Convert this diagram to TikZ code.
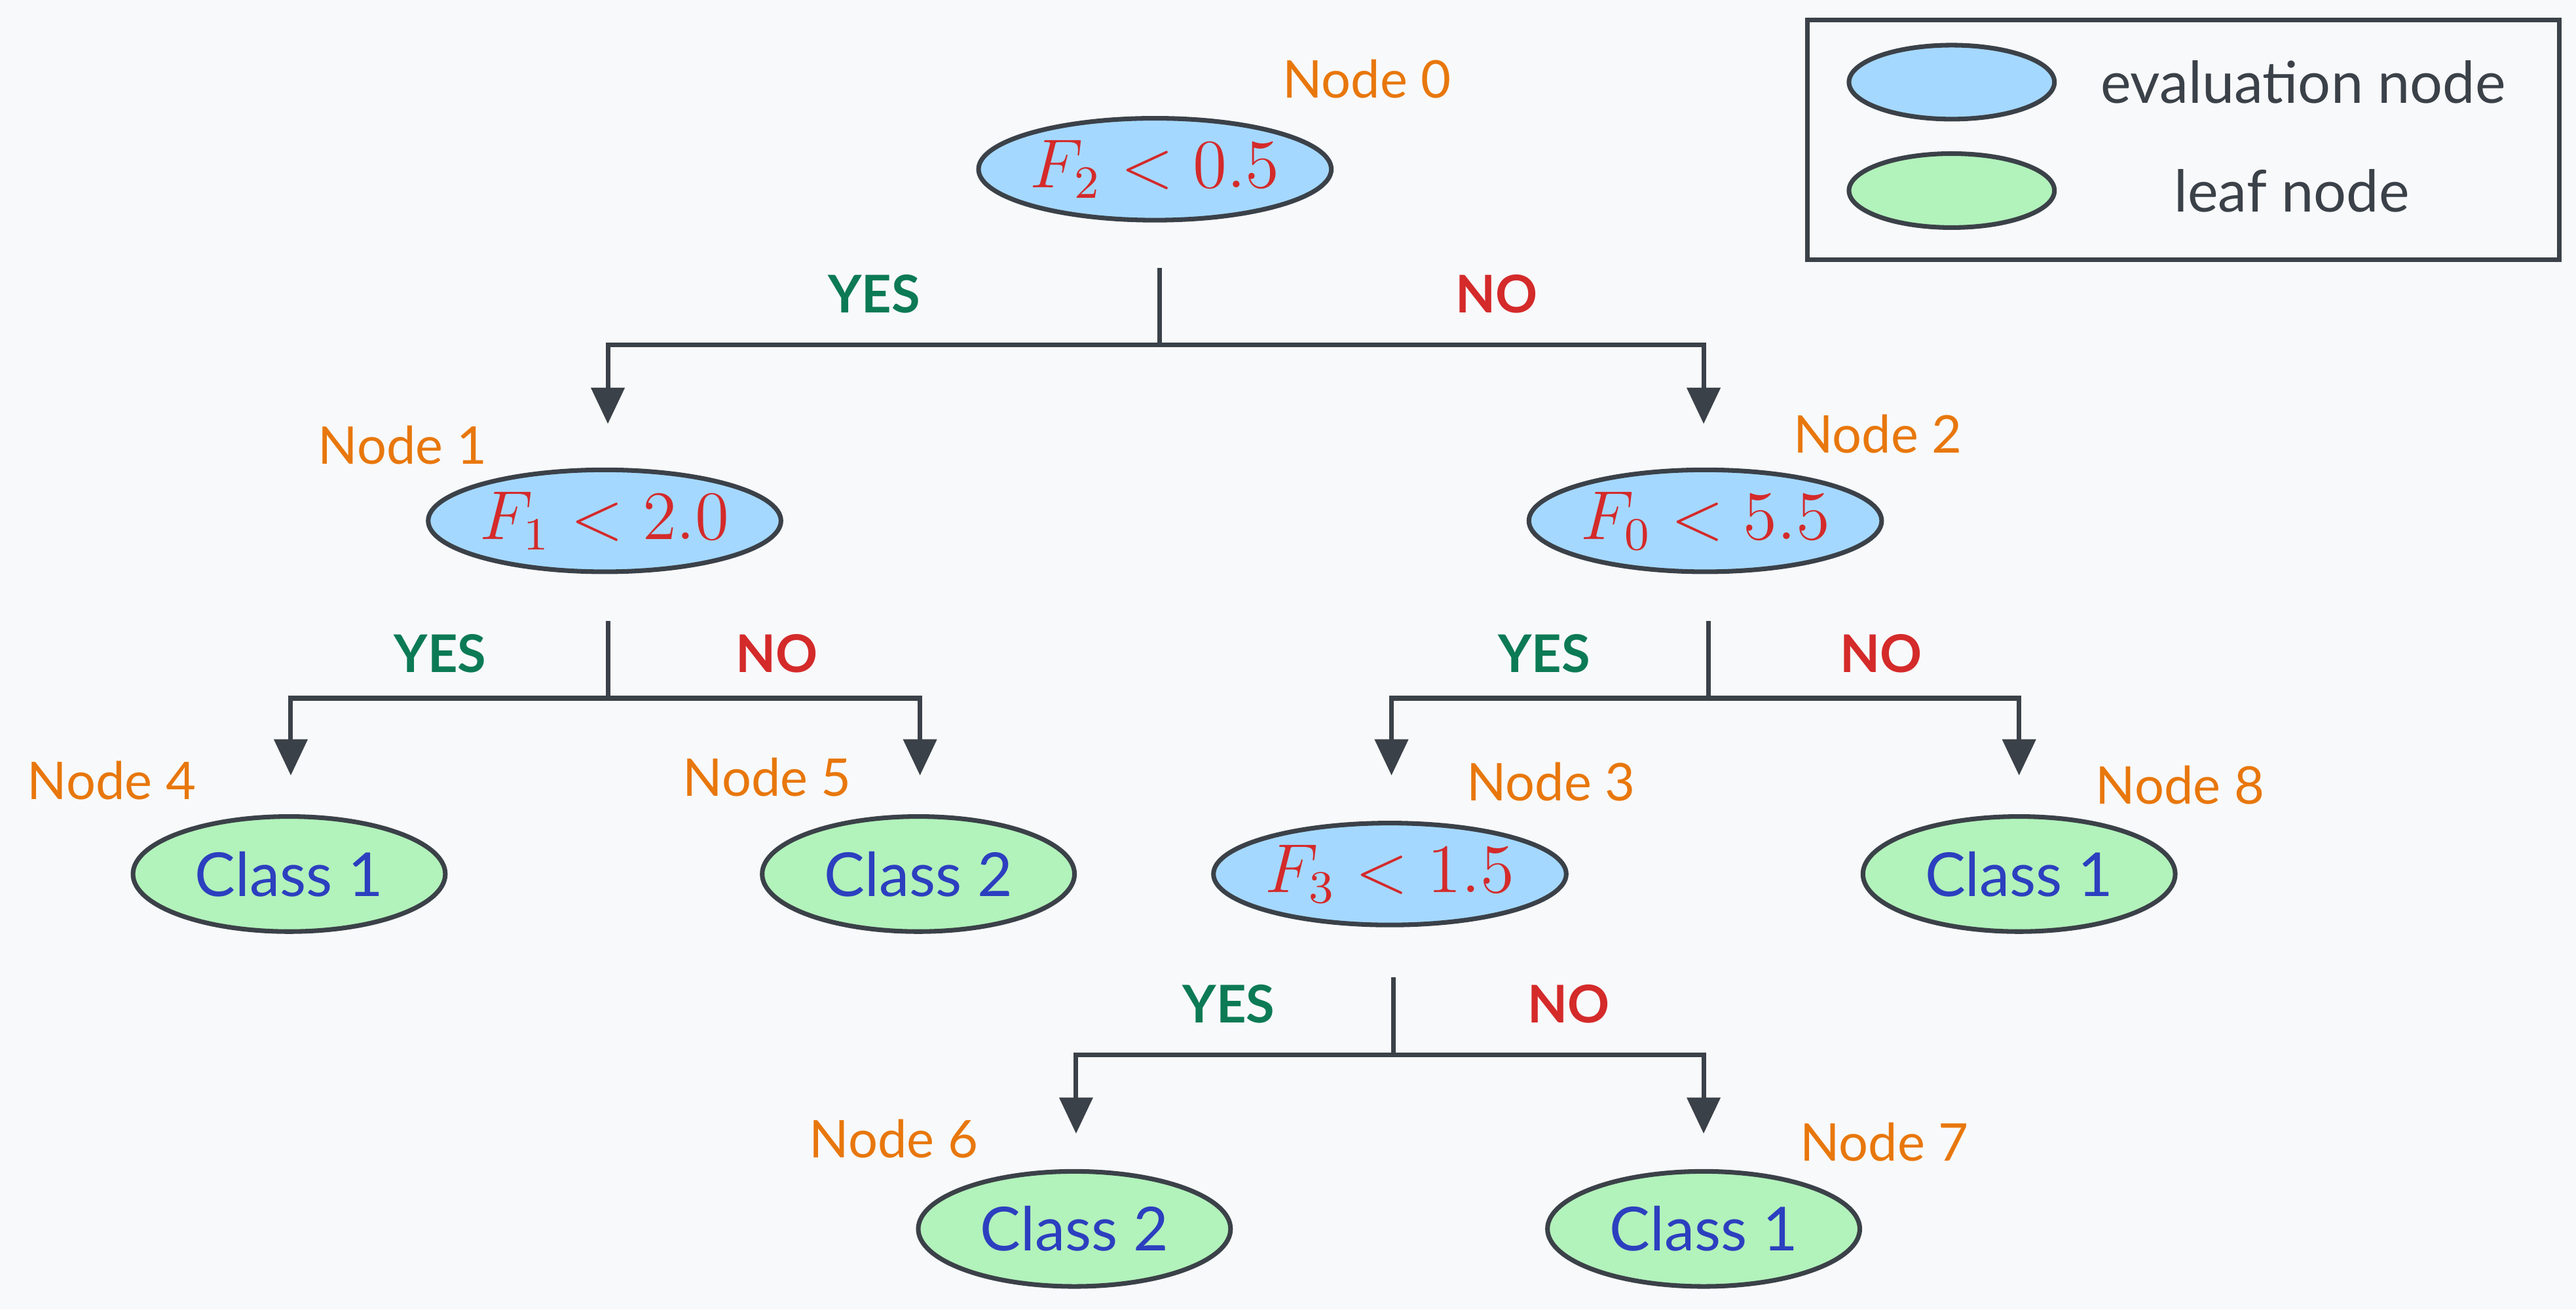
\documentclass[tikz,border=0pt]{standalone}
\usepackage{fontspec}
\setmainfont{Lato}
\usetikzlibrary{arrows.meta, shapes.geometric}
\definecolor{bgcol}{HTML}{F8F9FB}
\definecolor{evalfill}{HTML}{A5D8FF}
\definecolor{leaffill}{HTML}{B2F2BB}
\definecolor{strokecol}{HTML}{3B4148}
\definecolor{namecol}{HTML}{E8770C}
\definecolor{yescol}{HTML}{0C7A55}
\definecolor{nocol}{HTML}{D42A2A}
\definecolor{classcol}{HTML}{2C3FBF}

\begin{document}
\begin{tikzpicture}[
    x=0.01cm, y=-0.01cm,
    evalnode/.style={ellipse, draw=strokecol, thick, fill=evalfill, minimum width=1.92cm, minimum height=0.62cm, inner sep=0pt, text=nocol, font=\fontsize{11.5}{12}\selectfont},
    leafnode/.style={ellipse, draw=strokecol, thick, fill=leaffill, minimum width=1.9cm, minimum height=0.7cm, inner sep=0pt, text=classcol, font=\fontsize{10.5}{12}\selectfont},
    namenode/.style={text=namecol, font=\fontsize{9}{10}\selectfont},
    yesnode/.style={text=yescol, font=\fontsize{9}{10}\selectfont\bfseries},
    nonode/.style={text=nocol, font=\fontsize{9}{10}\selectfont\bfseries},
    branch/.style={draw=strokecol, thick},
    arrowline/.style={draw=strokecol, thick, -{Triangle[length=2.2mm, width=2mm]}},
]
    \fill [bgcol] (0,0) rectangle (1568,797);
    \useasboundingbox (0,0) rectangle (1568,797);

    % evaluation nodes
    \node [evalnode] at (703,103) (node_0) {$F_2 < 0.5$};
    \node [evalnode, minimum width=1.95cm] at (368,317) (node_1) {$F_1 < 2.0$};
    \node [evalnode, minimum width=1.95cm] at (1038,317) (node_2) {$F_0 < 5.5$};
    \node [evalnode] at (846,532) (node_3) {$F_3 < 1.5$};

    % leaf nodes
    \foreach \i/\x/\y/\c in {4/176/532/1, 5/559/532/2, 8/1229/532/1, 6/654/748/2, 7/1037/748/1}
    {
        \node [leafnode] at (\x,\y) (node_\i) {Class \c};
    }

    % node names
    \foreach \i/\x/\y in {0/832/48, 1/245/271, 2/1143/264, 4/68/475, 5/467/473, 3/944/476, 8/1327/478, 6/544/693, 7/1147/695}
    {
        \node [namenode] at (\x,\y) (name_\i) {Node \i};
    }

    % forks: parent / start x / start y / join y / left x / right x / arrow end y
    \foreach \p/\sx/\sy/\jy/\lx/\rx/\ay in {
    0/706/163/210/370/1037/258,
    1/370/378/425/177/560/472,
    2/1040/378/425/847/1229/472,
    3/848/595/642/655/1037/690}
    {
        \coordinate (start_\p) at (\sx,\sy);
        \coordinate (join_\p) at (\sx,\jy);
        \coordinate (left_\p) at (\lx,\ay);
        \coordinate (right_\p) at (\rx,\ay);
        \draw [branch] (start_\p) -- (join_\p);
        \draw [arrowline] (join_\p) -| (left_\p);
        \draw [arrowline] (join_\p) -| (right_\p);
    }

    % yes / no labels
    \foreach \p/\yx/\nx/\ly in {0/532/911/179, 1/268/473/398, 2/940/1145/398, 3/748/955/611}
    {
        \node [yesnode] at (\yx,\ly) (yes_\p) {YES};
        \node [nonode] at (\nx,\ly) (no_\p) {NO};
    }

    % legend
    \draw [strokecol, thick] (1100,12) rectangle (1558,158);
    \node [evalnode, minimum width=1.25cm, minimum height=0.45cm] at (1188,50) (legend_eval) {};
    \node [leafnode, minimum width=1.25cm, minimum height=0.45cm] at (1188,116) (legend_leaf) {};
    \node [text=strokecol, font=\fontsize{10}{12}\selectfont] at (1402,50) (legend_eval_text) {evaluation node};
    \node [text=strokecol, font=\fontsize{10}{12}\selectfont] at (1395,116) (legend_leaf_text) {leaf node};
\end{tikzpicture}
\end{document}
